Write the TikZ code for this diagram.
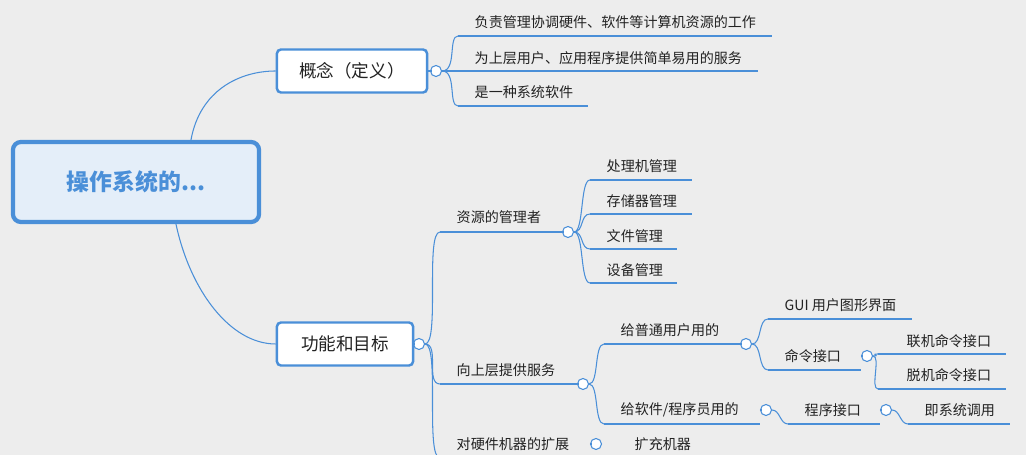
\documentclass[tikz,border=0pt]{standalone}
\usepackage{fontspec}
\setmainfont{Noto Sans CJK SC}
\definecolor{mapblue}{HTML}{4A8FD8}
\definecolor{bg}{HTML}{EDEDED}
\definecolor{ink}{HTML}{222222}
\tikzset{
  txt/.style={anchor=west,inner sep=0pt,font=\fontsize{4pt}{5pt}\selectfont,text=ink},
  uline/.style={draw=mapblue,line width=0.8pt},
  link/.style={draw=mapblue,line width=0.3pt},
  fold/.style={circle,draw=mapblue,fill=white,line width=0.3pt,minimum size=0.11cm,inner sep=0pt,
    path picture={\draw[mapblue,line width=0.3pt](path picture bounding box.west)++(0.03,0)--++(0.05,0);}},
  topic/.style={draw=mapblue,line width=0.7pt,rounded corners=0.04cm,fill=white,
    font=\fontsize{5pt}{6pt}\selectfont,text=ink,inner sep=0pt}
}
\begin{document}
\begin{tikzpicture}[x=0.01cm,y=-0.01cm]
  \fill[bg](0,0) rectangle (1026,455);
  \useasboundingbox (0,0) rectangle (1026,455);
  % root
  \node[draw=mapblue,line width=1.2pt,rounded corners=0.08cm,fill=white!85!mapblue,
    minimum width=2.46cm,minimum height=0.8cm,text=mapblue,
    font=\fontsize{6.5pt}{7pt}\selectfont\bfseries](root) at(136,182){操作系统的...};
  % concept
  \node[topic,minimum width=1.5cm,minimum height=0.43cm](def) at(352,71){概念（定义）};
  \node[fold](fdef) at(436,71){};
  \draw[link](root.north)++(55,0) .. controls (200,90) and (240,71) .. (def.west);
  \draw[link](def.east) -- (fdef.west);
  % goal
  \node[topic,minimum width=1.36cm,minimum height=0.43cm](goal) at(345,344){功能和目标};
  \node[fold](fgoal) at(419,344){};
  \draw[link](root.south)++(40,0) .. controls (190,290) and (230,344) .. (goal.west);
  \draw[link](goal.east) -- (fgoal.west);
  % concept children
  \coordinate(d1) at(458,36); \coordinate(d2) at(458,71); \coordinate(d3) at(458,106);
  \draw[uline](d1) -- ++(314,0); \node[txt] at(474,22){负责管理协调硬件、软件等计算机资源的工作};
  \draw[uline](d2) -- ++(300,0); \node[txt] at(474,58){为上层用户、应用程序提供简单易用的服务};
  \draw[uline](d3) -- ++(130,0); \node[txt] at(474,92){是一种系统软件};
  \foreach \c in {d1,d2,d3}
    \draw[link](fdef.east) .. controls +(15,0) and +(-10,0) .. (\c);
  % goal children
  \coordinate(g1) at(440,232); \coordinate(g2) at(440,384); \coordinate(g3) at(440,458);
  \draw[uline](g1) -- (562,232); \node[txt] at(456,217){资源的管理者};
  \node[fold](fg1) at(568,232){};
  \draw[uline](g2) -- (577,384); \node[txt] at(456,370){向上层提供服务};
  \node[fold](fg2) at(583,384){};
  \draw[uline](g3) -- (590,458); \node[txt] at(456,444){对硬件机器的扩展};
  \node[fold](fg3) at(596,444){};
  \node[txt] at(634,444){扩充机器};
  \foreach \c in {g1,g2,g3}
    \draw[link](fgoal.east) .. controls +(15,0) and +(-15,0) .. (\c);
  % resources
  \coordinate(r1) at(590,180); \coordinate(r2) at(590,214);
  \coordinate(r3) at(590,249); \coordinate(r4) at(590,283);
  \draw[uline](r1) -- ++(102,0); \node[txt] at(606,166){处理机管理};
  \draw[uline](r2) -- ++(102,0); \node[txt] at(606,201){存储器管理};
  \draw[uline](r3) -- ++(87,0); \node[txt] at(606,236){文件管理};
  \draw[uline](r4) -- ++(87,0); \node[txt] at(606,270){设备管理};
  \foreach \c in {r1,r2,r3,r4}
    \draw[link](fg1.east) .. controls +(10,0) and +(-10,0) .. (\c);
  % services
  \coordinate(s1) at(604,344); \coordinate(s2) at(604,424);
  \draw[uline](s1) -- (740,344); \node[txt] at(620,330){给普通用户用的};
  \node[fold](fs1) at(746,344){};
  \draw[uline](s2) -- (760,424); \node[txt] at(620,410){给软件/程序员用的};
  \node[fold](fs2) at(766,410){};
  \foreach \c in {s1,s2}
    \draw[link](fg2.east) .. controls +(10,0) and +(-10,0) .. (\c);
  % ordinary users
  \coordinate(u1) at(768,319); \coordinate(u2) at(768,370);
  \draw[uline](u1) -- ++(144,0); \node[txt] at(784,305){GUI 用户图形界面};
  \draw[uline](u2) -- (861,370); \node[txt] at(784,356){命令接口};
  \node[fold](fu2) at(867,356){};
  \foreach \c in {u1,u2}
    \draw[link](fs1.east) .. controls +(10,0) and +(-10,0) .. (\c);
  % command interface
  \coordinate(k1) at(878,354); \coordinate(k2) at(878,389);
  \draw[uline](k1) -- ++(128,0); \node[txt] at(906,341){联机命令接口};
  \draw[uline](k2) -- ++(128,0); \node[txt] at(906,375){脱机命令接口};
  \foreach \c in {k1,k2}
    \draw[link](fu2.east) .. controls +(8,0) and +(-8,0) .. (\c);
  % programmers
  \coordinate(p1) at(788,424);
  \draw[link](fs2.east) .. controls +(8,0) and +(-8,0) .. (p1);
  \draw[uline](p1) -- (880,424); \node[txt] at(804,410){程序接口};
  \node[fold](fp1) at(886,410){};
  \coordinate(p2) at(908,424);
  \draw[link](fp1.east) .. controls +(8,0) and +(-8,0) .. (p2);
  \draw[uline](p2) -- ++(102,0); \node[txt] at(924,410){即系统调用};
\end{tikzpicture}
\end{document}
